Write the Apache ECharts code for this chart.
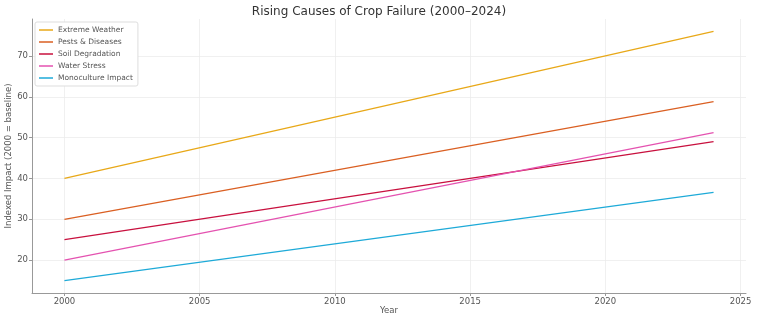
<!DOCTYPE html>
<html>
<head>
    <meta charset="utf-8">
    <title>Rising Causes of Crop Failure</title>
    <script src="https://cdn.jsdelivr.net/npm/echarts@6/dist/echarts.min.js"></script>
    <style>
        html, body { margin: 0; padding: 0; background: #fff; }
    </style>
</head>
<body>
    <div id="main" style="width: 758px;height:322px;"></div>
    <script type="text/javascript">
        // data (start and end of each straight line)
        var years = [2000, 2024];
        var extremeWeather = [40, 76];
        var pestsDiseases = [30, 58.8];
        var soilDegradation = [25, 49];
        var waterStress = [20, 51.2];
        var monoculture = [15, 36.6];

        var names = ['Extreme Weather', 'Pests & Diseases', 'Soil Degradation', 'Water Stress', 'Monoculture Impact'];
        var values = [extremeWeather, pestsDiseases, soilDegradation, waterStress, monoculture];
        var colors = ['#E8A818', '#DA5F22', '#C8103E', '#E452B0', '#1EAAD8'];

        var myChart = echarts.init(document.getElementById('main'));

        var series = names.map(function (n, i) {
            return {
                name: n,
                type: 'line',
                symbol: 'none',
                data: years.map(function (y, k) { return [y, values[i][k]]; }),
                lineStyle: { width: 1.3, color: colors[i] },
                itemStyle: { color: colors[i] }
            };
        });

        // hide labels that are not multiples of the step
        function stepLabel(step) {
            return function (v) {
                return Math.abs(v / step - Math.round(v / step)) < 1e-6 ? String(v) : '';
            };
        }

        var option = {
            animation: false,
            title: {
                text: 'Rising Causes of Crop Failure (2000\u20132024)',
                left: 'center',
                top: 1,
                textStyle: { fontFamily: 'DejaVu Sans', fontSize: 12, fontWeight: 'normal', color: '#333' }
            },
            legend: {
                data: names,
                orient: 'vertical',
                left: 35,
                top: 22,
                icon: 'rect',
                itemWidth: 14,
                itemHeight: 1.5,
                itemGap: 2,
                padding: [3, 5, 3, 4],
                borderColor: '#ddd',
                borderWidth: 1,
                borderRadius: 2,
                backgroundColor: '#fff',
                textStyle: { fontFamily: 'DejaVu Sans', fontSize: 7.5, color: '#555', lineHeight: 10 }
            },
            grid: { left: 32, right: 12, top: 19, bottom: 29, containLabel: false, outerBoundsMode: 'none' },
            xAxis: {
                type: 'value',
                min: 1998.8,
                max: 2025.2,
                name: 'Year',
                nameLocation: 'middle',
                nameGap: 13,
                nameMoveOverlap: false,
                nameTextStyle: { fontFamily: 'DejaVu Sans', fontSize: 8.5, color: '#555' },
                axisLine: { show: true, lineStyle: { color: '#999', width: 1 } },
                axisTick: { show: true, length: 3, lineStyle: { color: '#999' } },
                axisLabel: { fontFamily: 'DejaVu Sans', fontSize: 8.5, color: '#555', margin: 4, formatter: stepLabel(5), showMinLabel: false, showMaxLabel: false },
                splitLine: { show: true, showMinLine: false, showMaxLine: false, lineStyle: { color: '#ececec', width: 0.8 } }
            },
            yAxis: {
                type: 'value',
                min: 11.95,
                max: 79.05,
                name: 'Indexed Impact (2000 = baseline)',
                nameLocation: 'middle',
                nameGap: 19,
                nameMoveOverlap: false,
                nameRotate: 90,
                nameTextStyle: { fontFamily: 'DejaVu Sans', fontSize: 8.5, color: '#555' },
                axisLine: { show: true, lineStyle: { color: '#999', width: 1 } },
                axisTick: { show: true, length: 3, lineStyle: { color: '#999' } },
                axisLabel: { fontFamily: 'DejaVu Sans', fontSize: 8.5, color: '#555', margin: 4, formatter: stepLabel(10), showMinLabel: false, showMaxLabel: false },
                splitLine: { show: true, showMinLine: false, showMaxLine: false, lineStyle: { color: '#ececec', width: 0.8 } }
            },
            series: series
        };

        myChart.setOption(option);
    </script>
</body>
</html>
